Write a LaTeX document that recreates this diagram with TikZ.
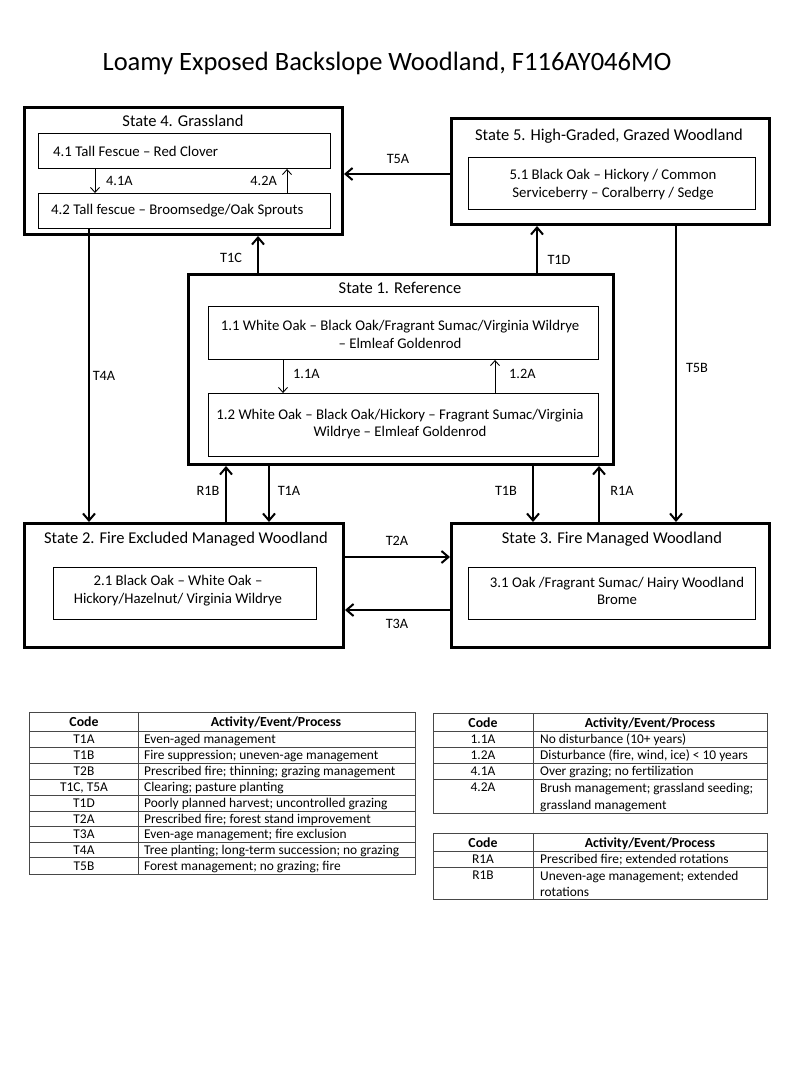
\documentclass[tikz,border=0pt]{standalone}
\usepackage{fontspec}
\setmainfont{Carlito}
\usetikzlibrary{arrows.meta}
\begin{document}
\begin{tikzpicture}[x=1pt,y=-1pt,
  statebox/.style={draw, line width=3pt, inner sep=0},
  subbox/.style={draw, line width=0.9pt, inner sep=0},
  txt/.style={inner sep=0, font=\fontsize{14.8}{17.8}\selectfont, align=center},
  stitle/.style={inner sep=0, font=\fontsize{16.5}{19}\selectfont},
  lab/.style={inner sep=0, font=\fontsize{14.3}{17}\selectfont},
  arr/.style={line width=2pt, -{Straight Barb[length=7pt,width=12pt]}},
  sarr/.style={line width=0.9pt, -{Straight Barb[length=5pt,width=9pt]}},
  tline/.style={line width=1pt, draw=black!72},
  ttxt/.style={inner sep=0, anchor=base, font=\fontsize{13.4}{16.5}\selectfont},
  thead/.style={inner sep=0, anchor=base, font=\bfseries\fontsize{13.8}{16}\selectfont},
]
\useasboundingbox[fill=white] (0,0) rectangle (800,1067);

% title
\node[inner sep=0, font=\fontsize{26.5}{30}\selectfont] (title) at (387,63) {Loamy Exposed Backslope Woodland, F116AY046MO};

% state boxes
\node[statebox, minimum width=318, minimum height=127] (s4) at (183.5,171) {};
\node[statebox, minimum width=318, minimum height=106] (s5) at (610.5,171.5) {};
\node[statebox, minimum width=425, minimum height=190] (s1) at (401,369.5) {};
\node[statebox, minimum width=319, minimum height=124] (s2) at (184,585.5) {};
\node[statebox, minimum width=318, minimum height=124] (s3) at (610.5,585.5) {};

% state titles
\node[stitle] (s4t) at (183,121) {State 4. Grassland};
\node[stitle] (s5t) at (609,136) {State 5. High-Graded, Grazed Woodland};
\node[stitle] (s1t) at (400,288) {State 1. Reference};
\node[stitle] (s2t) at (186,539) {State 2. Fire Excluded Managed Woodland};
\node[stitle] (s3t) at (612,539) {State 3. Fire Managed Woodland};

% community boxes
\node[subbox, minimum width=292, minimum height=35] (b41) at (184.5,151) {};
\node[subbox, minimum width=292, minimum height=35] (b42) at (184.5,211) {};
\node[subbox, minimum width=287, minimum height=52] (b51) at (612,183.5) {};
\node[subbox, minimum width=390, minimum height=53] (b11) at (403.5,333) {};
\node[subbox, minimum width=390, minimum height=63] (b12) at (403.5,425) {};
\node[subbox, minimum width=263, minimum height=52] (b21) at (185,593.5) {};
\node[subbox, minimum width=287, minimum height=52] (b31) at (612,593.5) {};

% community texts
\node[txt, anchor=west] (t41) at (53,151) {4.1 Tall Fescue – Red Clover};
\node[txt, anchor=west] (t42) at (51,211) {4.2 Tall fescue – Broomsedge/Oak Sprouts};
\node[txt] (t51) at (613,184.5) {5.1 Black Oak – Hickory / Common\\Serviceberry – Coralberry / Sedge};
\node[txt] (t11) at (400,334.5) {1.1 White Oak – Black Oak/Fragrant Sumac/Virginia Wildrye\\– Elmleaf Goldenrod};
\node[txt] (t12) at (400,424) {1.2 White Oak – Black Oak/Hickory – Fragrant Sumac/Virginia\\Wildrye – Elmleaf Goldenrod};
\node[txt] (t21) at (178,591) {2.1 Black Oak – White Oak –\\Hickory/Hazelnut/ Virginia Wildrye};
\node[txt] (t31) at (617,591) {3.1 Oak /Fragrant Sumac/ Hairy Woodland\\Brome};

% x / y positions of connectors
\coordinate (x41A) at (95,0);
\coordinate (x42A) at (287,0);
\coordinate (x11A) at (283,0);
\coordinate (x12A) at (495,0);
\coordinate (xT4A) at (89,0);
\coordinate (xT1C) at (258,0);
\coordinate (xT1D) at (537,0);
\coordinate (xT5B) at (676,0);
\coordinate (xR1B) at (226,0);
\coordinate (xT1A) at (269,0);
\coordinate (xT1B) at (533,0);
\coordinate (xR1A) at (599,0);
\coordinate (yT5A) at (0,174);
\coordinate (yT2A) at (0,557);
\coordinate (yT3A) at (0,610);

% within-state pathways
\draw[sarr] (b41.south -| x41A) -- (b42.north -| x41A);
\draw[sarr] (b42.north -| x42A) -- (b41.south -| x42A);
\draw[sarr] (b11.south -| x11A) -- (b12.north -| x11A);
\draw[sarr] (b12.north -| x12A) -- (b11.south -| x12A);
\node[lab, anchor=west] (l41A) at (106,181) {4.1A};
\node[lab, anchor=east] (l42A) at (277,181) {4.2A};
\node[lab, anchor=west] (l11A) at (293,374) {1.1A};
\node[lab, anchor=west] (l12A) at (509,374) {1.2A};

% transitions
\draw[arr] (s5.west |- yT5A) -- (s4.east |- yT5A);
\draw[arr] (s1.north -| xT1C) -- (s4.south -| xT1C);
\draw[arr] (s1.north -| xT1D) -- (s5.south -| xT1D);
\draw[arr] (b42.south -| xT4A) -- (s2.north -| xT4A);
\draw[arr] (s5.south -| xT5B) -- (s3.north -| xT5B);
\draw[arr] (s2.north -| xR1B) -- (s1.south -| xR1B);
\draw[arr] (s1.south -| xT1A) -- (s2.north -| xT1A);
\draw[arr] (s1.south -| xT1B) -- (s3.north -| xT1B);
\draw[arr] (s3.north -| xR1A) -- (s1.south -| xR1A);
\draw[arr] (s2.east |- yT2A) -- (s3.west |- yT2A);
\draw[arr] (s3.west |- yT3A) -- (s2.east |- yT3A);

\node[lab] (lT5A) at (398,159) {T5A};
\node[lab] (lT1C) at (231,258) {T1C};
\node[lab] (lT1D) at (559,260) {T1D};
\node[lab] (lT4A) at (104,376) {T4A};
\node[lab] (lT5B) at (697,368) {T5B};
\node[lab] (lR1B) at (208,491) {R1B};
\node[lab] (lT1A) at (289,491) {T1A};
\node[lab] (lT1B) at (506,491) {T1B};
\node[lab] (lR1A) at (622,491) {R1A};
\node[lab] (lT2A) at (397,541) {T2A};
\node[lab] (lT3A) at (397,624) {T3A};

% ---- left table ----
\draw[tline] (29,712) rectangle (415,874);
\draw[tline] (138,712) -- (138,874);
\foreach \yy in {731,747,763,779,795,811,826,842,857}
  \draw[tline] (29,\yy) -- (415,\yy);
\node[thead] (lhc) at (84,726.5) {Code};
\node[thead] (lha) at (276,726.5) {Activity/Event/Process};
\foreach \yy/\cc/\aa [count=\i] in {
  743.5/T1A/Even-aged management,
  759.5/T1B/Fire suppression; uneven-age management,
  775.5/T2B/Prescribed fire; thinning; grazing management,
  791.5/{T1C, T5A}/Clearing; pasture planting,
  807.5/T1D/Poorly planned harvest; uncontrolled grazing,
  823/T2A/Prescribed fire; forest stand improvement,
  838.5/T3A/Even-age management; fire exclusion,
  854/T4A/Tree planting; long-term succession; no grazing,
  870/T5B/Forest management; no grazing; fire}{
  \node[ttxt] (lc\i) at (84,\yy) {\cc};
  \node[ttxt, anchor=base west] (la\i) at (144,\yy) {\aa};
}

% ---- right table 1 ----
\draw[tline] (433,713) rectangle (767,813);
\draw[tline] (533,713) -- (533,813);
\foreach \yy in {731,747,763,779}
  \draw[tline] (433,\yy) -- (767,\yy);
\node[thead] (rhc) at (483,727) {Code};
\node[thead] (rha) at (650,727) {Activity/Event/Process};
\foreach \yy/\cc/\aa [count=\i] in {
  743.5/1.1A/No disturbance (10+ years),
  759.5/1.2A/{Disturbance (fire, wind, ice) < 10 years},
  775.5/4.1A/Over grazing; no fertilization}{
  \node[ttxt] (rc\i) at (483,\yy) {\cc};
  \node[ttxt, anchor=base west] (ra\i) at (540,\yy) {\aa};
}
\node[ttxt] (rc4) at (483,791.5) {4.2A};
\node[ttxt, anchor=base west] (ra4a) at (540,792) {Brush management; grassland seeding;};
\node[ttxt, anchor=base west] (ra4b) at (540,809) {grassland management};

% ---- right table 2 ----
\draw[tline] (433,833) rectangle (767,899);
\draw[tline] (533,833) -- (533,899);
\foreach \yy in {851,867}
  \draw[tline] (433,\yy) -- (767,\yy);
\node[thead] (qhc) at (483,847) {Code};
\node[thead] (qha) at (650,847) {Activity/Event/Process};
\node[ttxt] (qc1) at (483,863.5) {R1A};
\node[ttxt, anchor=base west] (qa1) at (540,863.5) {Prescribed fire; extended rotations};
\node[ttxt] (qc2) at (483,879.5) {R1B};
\node[ttxt, anchor=base west] (qa2a) at (540,880) {Uneven-age management; extended};
\node[ttxt, anchor=base west] (qa2b) at (540,896) {rotations};
\end{tikzpicture}
\end{document}
